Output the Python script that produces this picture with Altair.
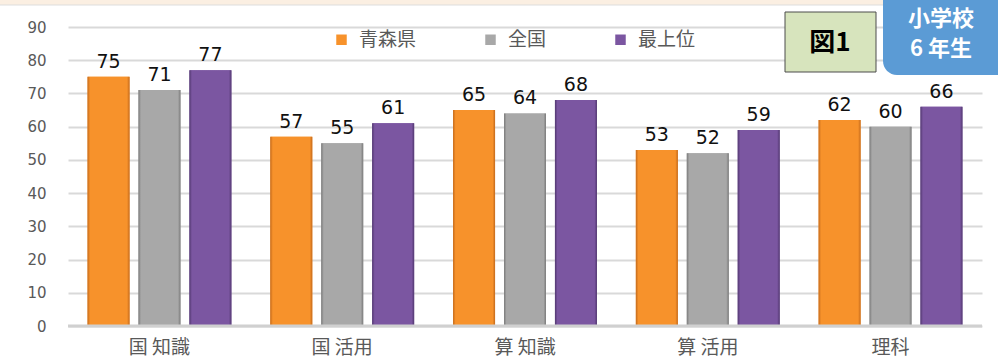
import altair as alt
import pandas as pd

subjects = ["国 知識", "国 活用", "算 知識", "算 活用", "理科"]
series = ["青森県", "全国", "最上位"]
aomori = [75, 57, 65, 53, 62]
zenkoku = [71, 55, 64, 52, 60]
saijoui = [77, 61, 68, 59, 66]
colors = ["#f7922b", "#a8a8a8", "#7b56a1"]
dark = ["#c46a1c", "#7a7a7a", "#523870"]

rows = []
for s, vals in zip(series, [aomori, zenkoku, saijoui]):
    for subj, v in zip(subjects, vals):
        rows.append({"subject": subj, "series": s, "value": v})
df = pd.DataFrame(rows)

FONT = "DejaVu Sans, Noto Sans CJK JP"
CJK = "Noto Sans CJK JP"

x = alt.X("subject:N", sort=subjects, title=None,
          scale=alt.Scale(paddingInner=0.213, paddingOuter=0.107),
          axis=alt.Axis(labelAngle=0, labelFont=CJK, labelFontSize=19, labelColor="#595959",
                        labelPadding=12, ticks=False, domain=False, grid=False))
xo = alt.XOffset("series:N", sort=series,
                 scale=alt.Scale(paddingInner=0.176, paddingOuter=0))


def yenc(field):
    return alt.Y(field, title=None,
                 scale=alt.Scale(domain=[0, 90], nice=False),
                 axis=alt.Axis(values=list(range(0, 100, 10)), labelFont=FONT, labelFontSize=15,
                               labelColor="#595959", labelPadding=22, ticks=False, domain=False,
                               labelOverlap=False, gridColor="#d9d9d9", gridWidth=2))


y = yenc("value:Q")
base = alt.Chart(df)

bars = base.mark_bar().encode(
    x=x, xOffset=xo, y=y,
    color=alt.Color("series:N", sort=series,
                    scale=alt.Scale(domain=series, range=colors),
                    legend=alt.Legend(title=None, orient="none", legendX=264, legendY=3,
                                      direction="horizontal", columns=3, columnPadding=64,
                                      symbolType="square", symbolSize=110, symbolStrokeWidth=0,
                                      labelFont=CJK, labelFontSize=19, labelColor="#595959",
                                      labelOffset=8)),
)

grad_layers = []
for s, c, d in zip(series, colors, dark):
    g = alt.Gradient(gradient="linear", x1=0, x2=1, y1=0, y2=0,
                     stops=[alt.GradientStop(offset=0, color=d),
                            alt.GradientStop(offset=0.06, color=c),
                            alt.GradientStop(offset=0.94, color=c),
                            alt.GradientStop(offset=1, color=d)])
    grad_layers.append(
        base.transform_filter(alt.datum.series == s)
        .mark_bar(fill=g)
        .encode(x=x, xOffset=xo, y=y)
    )

labels = base.mark_text(baseline="bottom", dy=-5, fontSize=19, font=FONT, color="#111111").encode(
    x=x, xOffset=xo, y=y, text="value:Q"
)

zero = alt.Chart(pd.DataFrame({"v": [0]})).mark_rule(color="#d0d0d0", strokeWidth=3).encode(
    y=yenc("v:Q")
)

one = pd.DataFrame({"a": [0]})
top_band = alt.Chart(one).mark_rect(fill="#fbefe2", stroke="#dddddd", strokeWidth=1).encode(
    x=alt.value(-69), x2=alt.value(931), y=alt.value(-28), y2=alt.value(-22))

fig_box = alt.Chart(one).mark_rect(fill="#d7e4bd", stroke="#4d4d4d", strokeWidth=1).encode(
    x=alt.value(717), x2=alt.value(808), y=alt.value(-15), y2=alt.value(45))
fig_text = alt.Chart(one).mark_text(font=CJK, fontSize=26, fontWeight="bold", color="#000000").encode(
    x=alt.value(762), y=alt.value(16), text=alt.value("図1"))

blue_box = alt.Chart(one).mark_rect(fill="#5b9bd5", cornerRadiusBottomLeft=14).encode(
    x=alt.value(815), x2=alt.value(931), y=alt.value(-28), y2=alt.value(48))
blue_t1 = alt.Chart(one).mark_text(font=CJK, fontSize=22, fontWeight="bold", color="#ffffff").encode(
    x=alt.value(873), y=alt.value(-8), text=alt.value("小学校"))
blue_t2 = alt.Chart(one).mark_text(font=CJK, fontSize=22, fontWeight="bold", color="#ffffff").encode(
    x=alt.value(873), y=alt.value(22), text=alt.value("6 年生"))

chart = alt.layer(
    bars, *grad_layers, zero, labels, top_band, fig_box, fig_text, blue_box, blue_t1, blue_t2
).properties(
    width=914, height=299,
    autosize=alt.AutoSizeParams(type="none"),
    padding={"left": 68, "top": 27, "right": 16, "bottom": 37},
    background="#ffffff",
).configure_view(stroke=None)

chart.save("out.html", embed_options={"renderer": "svg", "actions": False})
